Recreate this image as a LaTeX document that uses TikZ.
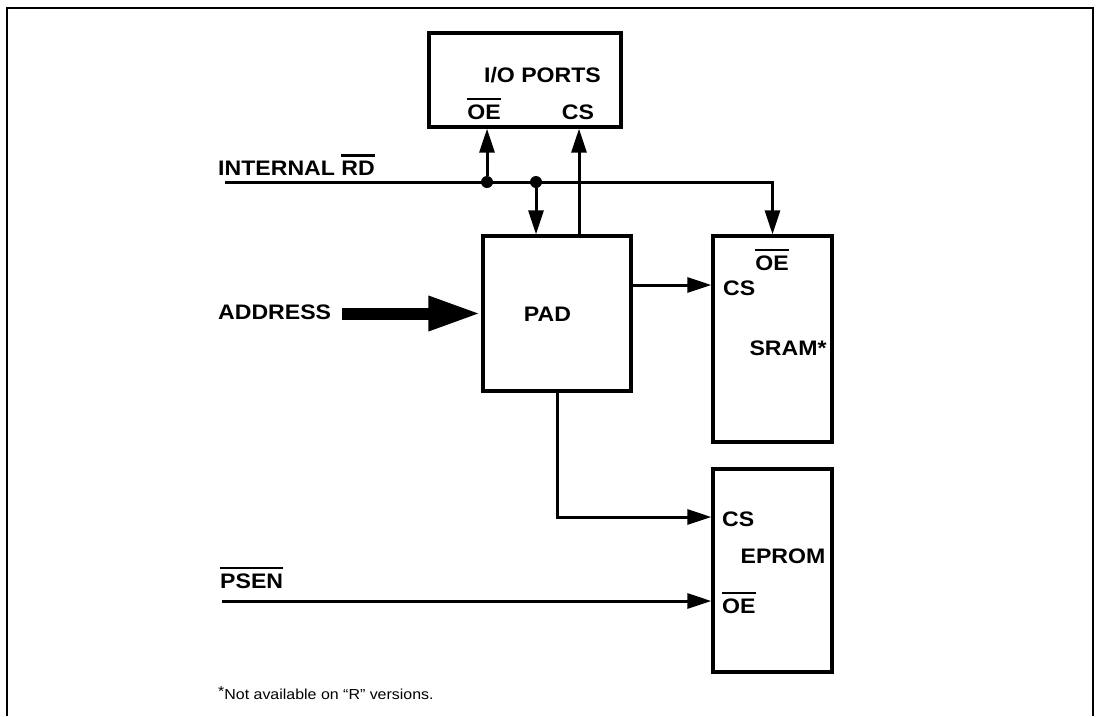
\documentclass[tikz,border=0pt]{standalone}
\usepackage{fontspec}
\setmainfont{Liberation Sans}[FakeStretch=1.1]
\usetikzlibrary{arrows.meta}
\newcommand{\myovl}[1]{\begingroup\setbox0\hbox{#1}\rlap{\rule[\dimexpr\ht0+4pt\relax]{\wd0}{2.2pt}}\box0\endgroup}
\begin{document}
\begin{tikzpicture}[x=1pt,y=-1pt,
  blk/.style={draw, line width=3.4pt, inner sep=0pt},
  lbl/.style={inner sep=0pt, font=\fontsize{21}{25}\selectfont\bfseries},
  note/.style={inner sep=0pt, font=\fontsize{14.5}{18}\selectfont},
  wire/.style={line width=3pt},
  arr/.style={wire, -{Triangle[length=24pt,width=15pt]}},
  bus/.style={line width=12pt, -{Triangle[length=53pt,width=32pt]}},
  dotn/.style={circle, fill=black, inner sep=0pt, minimum size=12pt},
  frame/.style={line width=2pt}]
\useasboundingbox (0,0) rectangle (1096,716);
% outer frame (open at the bottom)
\draw[frame] (7,716) -- (7,8) -- (1093,8) -- (1093,716);

% blocks
\node[blk, minimum width=192pt, minimum height=94pt] (io) at (525,80) {};
\node[blk, minimum width=148pt, minimum height=155pt] (pad) at (557,313.5) {};
\node[blk, minimum width=119pt, minimum height=206pt] (sram) at (772.5,339) {};
\node[blk, minimum width=119pt, minimum height=203pt] (eprom) at (772.5,570.5) {};

% block texts
\node[lbl, anchor=base] (iot) at (542.5,82) {I/O PORTS};
\node[lbl, anchor=base] (iooe) at (484,119) {\myovl{OE}};
\node[lbl, anchor=base] (iocs) at (578,119) {CS};
\node[lbl, anchor=base] (padt) at (547.5,321) {PAD};
\node[lbl, anchor=base] (sramoe) at (772,270) {\myovl{OE}};
\node[lbl, anchor=base west] (sramcs) at (723,295) {CS};
\node[lbl, anchor=base] (sramt) at (788,355) {SRAM*};
\node[lbl, anchor=base west] (epcs) at (722,526) {CS};
\node[lbl, anchor=base] (ept) at (783,563) {EPROM};
\node[lbl, anchor=base west] (epoe) at (722,613) {\myovl{OE}};

% signal labels
\node[lbl, anchor=base west] (rdl) at (218,175) {INTERNAL \myovl{RD}};
\node[lbl, anchor=base west] (addrl) at (218,319) {ADDRESS};
\node[lbl, anchor=base west] (psenl) at (220,588) {\myovl{PSEN}};
\node[note, anchor=base west] (fn) at (218,699) {\raisebox{3pt}{*}Not available on “R” versions.};

% wire points
\coordinate (rdstart) at (225,182);
\node[dotn] (d1) at (487,182) {};
\node[dotn] (d2) at (536,182) {};
\coordinate (csx) at (579,182);
\coordinate (srcs) at (700,285);
\coordinate (epcsy) at (700,517);
\coordinate (psenstart) at (222,601);
\coordinate (addrstart) at (342,313.5);

% connectors
\draw[arr] (rdstart) -| (sram.north);
\draw[arr] (d1) -- (d1 |- io.south);
\draw[arr] (d2) -- (d2 |- pad.north);
\draw[arr] (pad.north -| csx) -- (io.south -| csx);
\draw[arr] (pad.east |- srcs) -- (sram.west |- srcs);
\draw[arr] (pad.south) |- (eprom.west |- epcsy);
\draw[arr] (psenstart) -- (eprom.west |- psenstart);
\draw[bus] (addrstart) -- (pad.west);
\end{tikzpicture}
\end{document}
